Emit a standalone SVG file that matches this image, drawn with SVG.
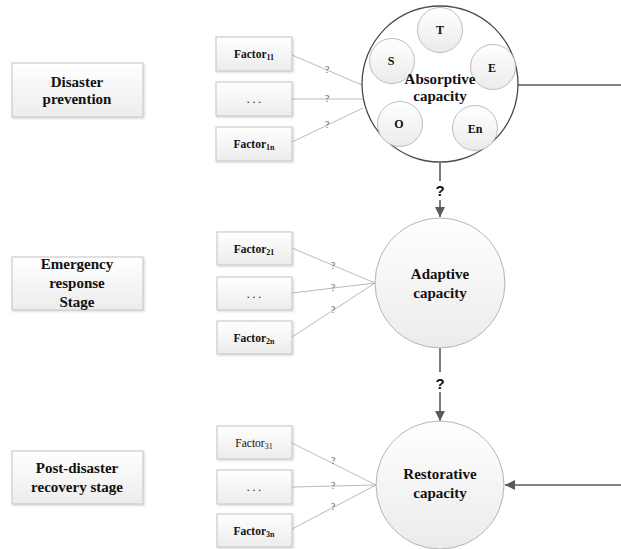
<svg xmlns="http://www.w3.org/2000/svg" width="621" height="549" viewBox="0 0 621 549">
<defs>
<linearGradient id="boxg" x1="0" y1="0" x2="0" y2="1">
<stop offset="0" stop-color="#ffffff"/>
<stop offset="1" stop-color="#ececec"/>
</linearGradient>
<linearGradient id="cirg" x1="0" y1="0" x2="0" y2="1">
<stop offset="0" stop-color="#ffffff"/>
<stop offset="1" stop-color="#ebebeb"/>
</linearGradient>
<marker id="arr" viewBox="0 0 10 10" refX="10" refY="5" markerWidth="10" markerHeight="10" markerUnits="userSpaceOnUse" orient="auto">
<path d="M0,0 L10,5 L0,10 z" fill="#5a5a5a"/>
</marker>
<filter id="sh" x="-10%" y="-10%" width="125%" height="130%">
<feDropShadow dx="1" dy="1" stdDeviation="0.8" flood-color="#000" flood-opacity="0.18"/>
</filter>
</defs>
<style>
.box{fill:url(#boxg);stroke:#c4c4c4;stroke-width:1;filter:url(#sh)}
.big{fill:url(#cirg);stroke:#b4b4b4;stroke-width:1}
.small{fill:url(#cirg);stroke:#bdbdbd;stroke-width:1}
.stage{font-weight:bold;font-size:15px;fill:#111;text-anchor:middle}
.cap{font-weight:bold;font-size:15px;fill:#111;text-anchor:middle}
.fac{font-weight:bold;font-size:11.5px;fill:#111;text-anchor:middle}
.facn{font-size:11.5px;fill:#111;text-anchor:middle}
.sub{font-size:8px}
.ini{font-weight:bold;font-size:12px;fill:#111;text-anchor:middle}
.q{font-size:9.5px;fill:#555;text-anchor:middle}
.bq{font-weight:bold;font-size:15px;fill:#111;text-anchor:middle}
.thin{stroke:#a8a8a8;stroke-width:0.8;fill:none}
.thick{stroke:#5a5a5a;stroke-width:1.6;fill:none}
</style>
<g font-family="'Liberation Serif', 'Times New Roman', 'DejaVu Serif', serif">
<g id="stage1"><rect class="box" x="12" y="63" width="131" height="54"/>
<text class="stage" x="77" y="87">Disaster</text><text class="stage" x="77" y="104">prevention</text></g>
<g id="stage2"><rect class="box" x="12" y="257" width="131" height="53"/>
<text class="stage" x="77" y="269">Emergency</text><text class="stage" x="77" y="288">response</text><text class="stage" x="77" y="307">Stage</text></g>
<g id="stage3"><rect class="box" x="12" y="451" width="131" height="53"/>
<text class="stage" x="77" y="473">Post-disaster</text><text class="stage" x="77" y="492">recovery stage</text></g>

<g id="connectors">
<line class="thin" x1="292" y1="55" x2="362" y2="85"/>
<line class="thin" x1="292" y1="99" x2="362" y2="99"/>
<line class="thin" x1="292" y1="142" x2="363" y2="108"/>
<line class="thin" x1="292" y1="248" x2="375" y2="283"/>
<line class="thin" x1="292" y1="293" x2="375" y2="283"/>
<line class="thin" x1="292" y1="337" x2="375" y2="283"/>
<line class="thin" x1="292" y1="443" x2="376" y2="485"/>
<line class="thin" x1="292" y1="487" x2="376" y2="485"/>
<line class="thin" x1="292" y1="529" x2="376" y2="485"/>
<text class="q" x="327" y="73">?</text>
<text class="q" x="327" y="102">?</text>
<text class="q" x="327" y="128">?</text>
<text class="q" x="333" y="269">?</text>
<text class="q" x="333" y="291">?</text>
<text class="q" x="333" y="313">?</text>
<text class="q" x="333" y="464">?</text>
<text class="q" x="333" y="489">?</text>
<text class="q" x="333" y="510">?</text>
<line class="thick" x1="440" y1="163" x2="440" y2="181"/>
<line class="thick" x1="440" y1="200" x2="440" y2="217" marker-end="url(#arr)"/>
<text class="bq" font-family="'Liberation Sans', Arial, sans-serif" x="440" y="196">?</text>
<line class="thick" x1="440" y1="348" x2="440" y2="372"/>
<line class="thick" x1="440" y1="392" x2="440" y2="421" marker-end="url(#arr)"/>
<text class="bq" font-family="'Liberation Sans', Arial, sans-serif" x="440" y="389">?</text>
<line class="thick" x1="518" y1="85" x2="621" y2="85"/>
<line class="thick" x1="621" y1="485" x2="505" y2="485" marker-end="url(#arr)"/>
</g>

<g id="f11"><rect class="box" x="216" y="37" width="76" height="34"/><text class="fac" x="254" y="58">Factor<tspan class="sub" dy="2">11</tspan></text></g>
<g id="f1d"><rect class="box" x="216" y="82" width="76" height="34"/><text class="facn" x="254" y="103">. . .</text></g>
<g id="f1n"><rect class="box" x="216" y="127" width="76" height="34"/><text class="fac" x="254" y="148">Factor<tspan class="sub" dy="2">1n</tspan></text></g>

<g id="f21"><rect class="box" x="217" y="232" width="75" height="33"/><text class="fac" x="254" y="253">Factor<tspan class="sub" dy="2">21</tspan></text></g>
<g id="f2d"><rect class="box" x="217" y="277" width="75" height="33"/><text class="facn" x="254" y="298">. . .</text></g>
<g id="f2n"><rect class="box" x="217" y="321" width="75" height="33"/><text class="fac" x="254" y="342">Factor<tspan class="sub" dy="2">2n</tspan></text></g>

<g id="f31"><rect class="box" x="217" y="426" width="75" height="33"/><text class="facn" x="254" y="447">Factor<tspan class="sub" dy="2">31</tspan></text></g>
<g id="f3d"><rect class="box" x="217" y="470" width="75" height="34"/><text class="facn" x="254" y="491">. . .</text></g>
<g id="f3n"><rect class="box" x="217" y="514" width="75" height="33"/><text class="fac" x="254" y="535">Factor<tspan class="sub" dy="2">3n</tspan></text></g>

<g id="absorptive">
<circle cx="440" cy="84" r="78" fill="#ffffff" stroke="#4a4a4a" stroke-width="1.3"/>
<g id="T"><circle class="small" cx="440" cy="30" r="22.5"/><text class="ini" x="440" y="34">T</text></g>
<g id="S"><circle class="small" cx="392" cy="61" r="22.5"/><text class="ini" x="391" y="65">S</text></g>
<g id="E"><circle class="small" cx="493" cy="67" r="22.5"/><text class="ini" x="492" y="72">E</text></g>
<g id="O"><circle class="small" cx="400" cy="124" r="22.5"/><text class="ini" x="399" y="128">O</text></g>
<g id="En"><circle class="small" cx="475" cy="128" r="22.5"/><text class="ini" x="475" y="133">En</text></g>
<text class="cap" x="440" y="84">Absorptive</text><text class="cap" x="440" y="101">capacity</text>
</g>

<g id="adaptive"><circle class="big" cx="440" cy="283" r="65"/>
<text class="cap" x="440" y="279">Adaptive</text><text class="cap" x="440" y="298">capacity</text></g>

<g id="restorative"><circle class="big" cx="440" cy="485" r="64"/>
<text class="cap" x="440" y="479">Restorative</text><text class="cap" x="440" y="498">capacity</text></g>
</g>
</svg>
